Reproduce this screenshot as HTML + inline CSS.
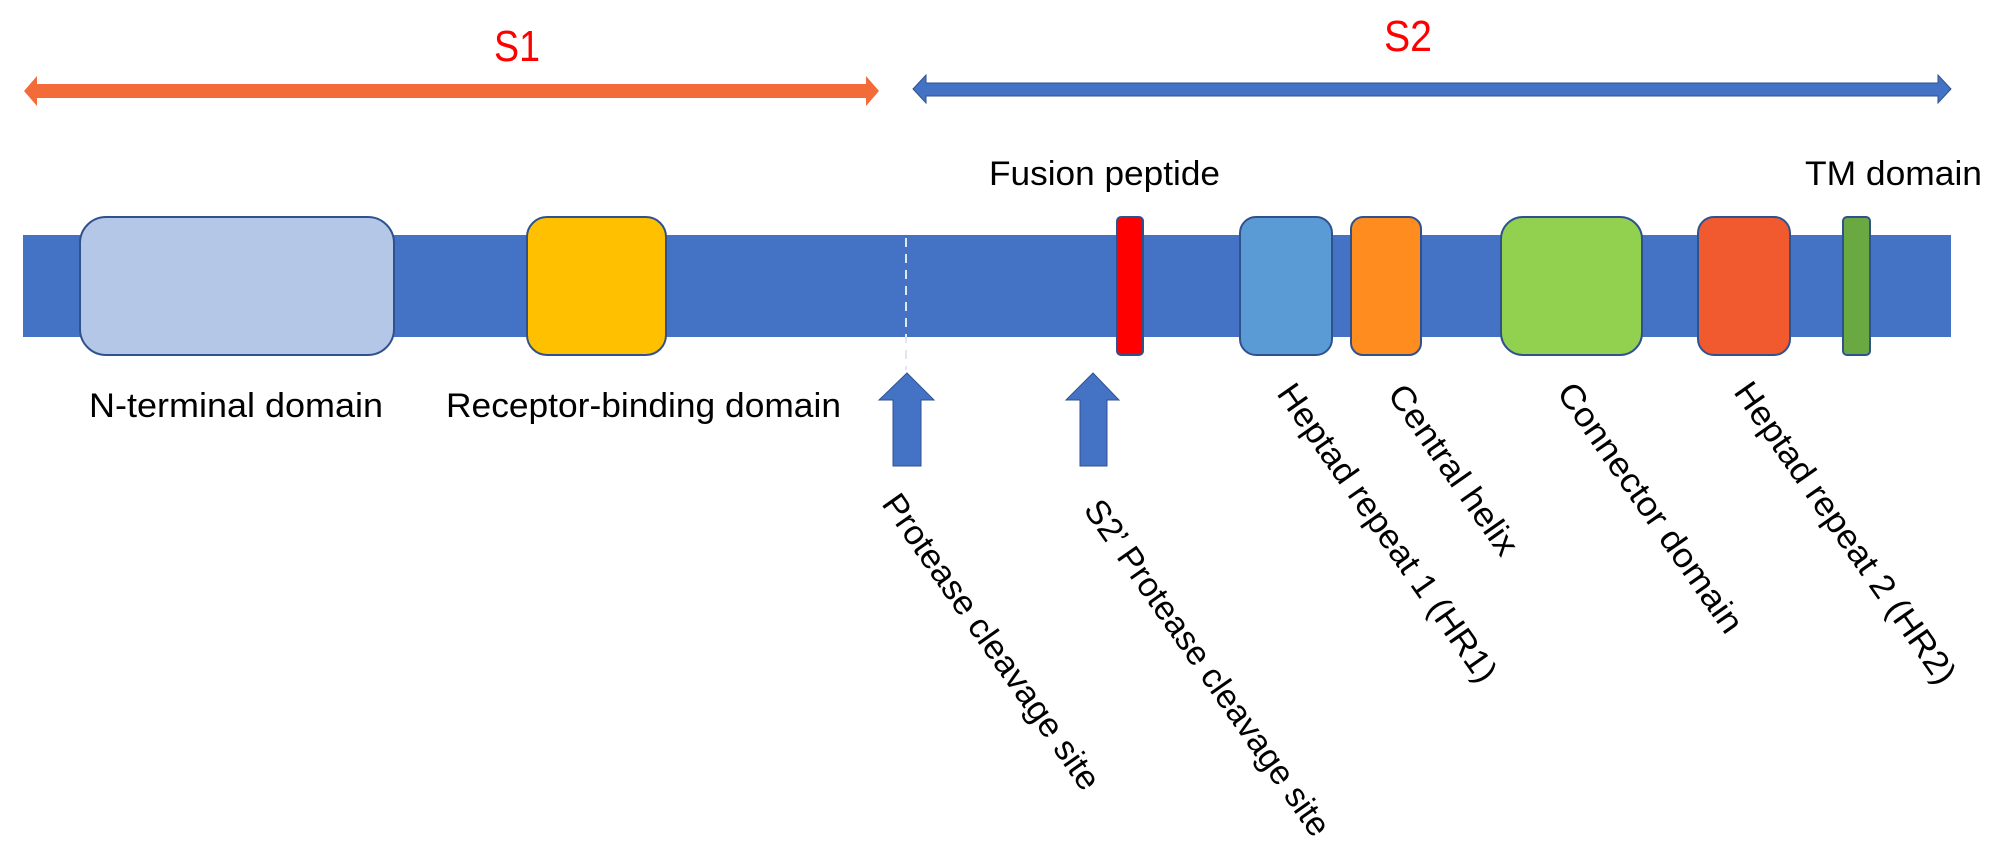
<!DOCTYPE html>
<html><head><meta charset="utf-8"><style>
html,body{margin:0;padding:0;background:#fff;}
svg{display:block;}
text{font-family:"Liberation Sans",sans-serif;}
</style></head><body>
<svg width="2000" height="857" viewBox="0 0 2000 857" xmlns="http://www.w3.org/2000/svg">
<text x="517" y="61" font-size="44" fill="#FF0000" text-anchor="middle" textLength="46" lengthAdjust="spacingAndGlyphs">S1</text>
<text x="1408" y="51" font-size="44" fill="#FF0000" text-anchor="middle" textLength="48" lengthAdjust="spacingAndGlyphs">S2</text>
<polygon points="24,91 37,76 37,84 866,84 866,76 879,91 866,106 866,98 37,98 37,106" fill="#F26B38"/>
<polygon points="913,89 926,75 926,83 1938,83 1938,75 1951,89 1938,103 1938,96 926,96 926,103" fill="#4472C4" stroke="#2F528F" stroke-width="1"/>
<rect x="23" y="235" width="1928" height="102" fill="#4472C4"/>
<line x1="906" y1="238" x2="906" y2="370" stroke="#E0E6F0" stroke-width="2" stroke-dasharray="9,7"/>
<rect x="80" y="217" width="314" height="138" rx="26" fill="#B4C7E7" stroke="#2F528F" stroke-width="2"/>
<rect x="527" y="217" width="139" height="138" rx="20" fill="#FFC000" stroke="#2F528F" stroke-width="2"/>
<rect x="1117" y="217" width="26" height="138" rx="4" fill="#FF0000" stroke="#2F528F" stroke-width="2"/>
<rect x="1240" y="217" width="92" height="138" rx="16" fill="#5B9BD5" stroke="#2F528F" stroke-width="2"/>
<rect x="1351" y="217" width="70" height="138" rx="12" fill="#FF8C1E" stroke="#2F528F" stroke-width="2"/>
<rect x="1501" y="217" width="141" height="138" rx="22" fill="#92D050" stroke="#2F528F" stroke-width="2"/>
<rect x="1698" y="217" width="92" height="138" rx="16" fill="#F15A2F" stroke="#2F528F" stroke-width="2"/>
<rect x="1843" y="217" width="27" height="138" rx="4" fill="#6AA842" stroke="#2F528F" stroke-width="2"/>
<polygon points="907,373 934,400 921,400 921,466 893,466 893,400 879,400" fill="#4472C4" stroke="#2F528F" stroke-width="1"/>
<polygon points="1093,373 1119,400 1107,400 1107,466 1080,466 1080,400 1066,400" fill="#4472C4" stroke="#2F528F" stroke-width="1"/>
<text x="89" y="417" font-size="34" fill="#000" textLength="294" lengthAdjust="spacingAndGlyphs">N-terminal domain</text>
<text x="446" y="417" font-size="34" fill="#000" textLength="395" lengthAdjust="spacingAndGlyphs">Receptor-binding domain</text>
<text x="989" y="185" font-size="34" fill="#000" textLength="231" lengthAdjust="spacingAndGlyphs">Fusion peptide</text>
<text x="1805" y="185" font-size="34" fill="#000" textLength="177" lengthAdjust="spacingAndGlyphs">TM domain</text>
<g font-size="34" fill="#000" text-anchor="middle" dominant-baseline="central">
<text transform="translate(991,642) rotate(55)" textLength="353" lengthAdjust="spacingAndGlyphs">Protease cleavage site</text>
<text transform="translate(1207,668) rotate(55)" textLength="402" lengthAdjust="spacingAndGlyphs">S2’ Protease cleavage site</text>
<text transform="translate(1387,533) rotate(55)" textLength="356" lengthAdjust="spacingAndGlyphs">Heptad repeat 1 (HR1)</text>
<text transform="translate(1453,470) rotate(55)" textLength="200" lengthAdjust="spacingAndGlyphs">Central helix</text>
<text transform="translate(1650,508) rotate(55)" textLength="297" lengthAdjust="spacingAndGlyphs">Connector domain</text>
<text transform="translate(1845,533) rotate(55)" textLength="360" lengthAdjust="spacingAndGlyphs">Heptad repeat 2 (HR2)</text>
</g>
</svg>
</body></html>
